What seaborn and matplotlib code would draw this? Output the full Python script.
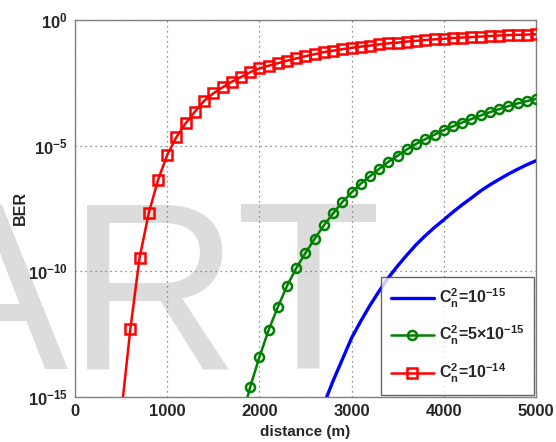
import matplotlib
matplotlib.use("Agg")
import matplotlib.pyplot as plt
import matplotlib.ticker as mticker
import numpy as np
import pandas as pd
import seaborn as sns

# distances (m) and log10(BER)
red_dist = list(range(500, 5001, 100))
red_log10 = [-15.7, -12.3, -9.47, -7.68, -6.37, -5.37, -4.66, -4.11, -3.65, -3.22,
             -2.92, -2.68, -2.46, -2.27, -2.08, -1.93, -1.82, -1.72, -1.62, -1.53,
             -1.44, -1.36, -1.28, -1.22, -1.16, -1.11, -1.06, -1.02, -0.97, -0.93,
             -0.90, -0.86, -0.83, -0.80, -0.77, -0.75, -0.72, -0.70, -0.68, -0.66,
             -0.64, -0.62, -0.60, -0.59, -0.58, -0.57]

green_dist = list(range(1800, 5001, 100))
green_log10 = [-16.0, -14.6, -13.41, -12.34, -11.42, -10.58, -9.87, -9.27, -8.70, -8.17,
               -7.69, -7.24, -6.86, -6.51, -6.21, -5.92, -5.64, -5.40, -5.15, -4.93,
               -4.74, -4.56, -4.38, -4.23, -4.08, -3.94, -3.80, -3.67, -3.55, -3.43,
               -3.32, -3.23, -3.14]

blue_dist = [2700, 2730, 2800, 2900, 3000, 3100, 3200, 3300, 3400, 3500, 3600, 3700,
             3800, 3900, 4000, 4100, 4200, 4300, 4400, 4500, 4600, 4700, 4800, 4900, 5000]
blue_log10 = [-15.3, -15.0, -14.35, -13.5, -12.65, -11.98, -11.35, -10.78, -10.25, -9.78,
              -9.35, -8.94, -8.58, -8.25, -7.95, -7.64, -7.35, -7.08, -6.80, -6.56,
              -6.34, -6.13, -5.94, -5.76, -5.6]

labels = [r"$\mathregular{C_n^2}$=10$^{\mathregular{-15}}$",
          r"$\mathregular{C_n^2}$=5$\times$10$^{\mathregular{-15}}$",
          r"$\mathregular{C_n^2}$=10$^{\mathregular{-14}}$"]

sns.set_style("white")
plt.rcParams['font.family'] = ['Liberation Sans', 'DejaVu Sans']
plt.rcParams['font.weight'] = 'bold'
plt.rcParams['mathtext.fontset'] = 'custom'
plt.rcParams['mathtext.rm'] = 'Liberation Sans:bold'
plt.rcParams['mathtext.it'] = 'Liberation Sans:bold'
plt.rcParams['mathtext.bf'] = 'Liberation Sans:bold'
plt.rcParams['mathtext.default'] = 'regular'

fig = plt.figure(figsize=(5.56, 4.42), dpi=100)
ax = fig.add_axes([0.1349, 0.1018, 0.8291, 0.853])
ax.set_zorder(2)
ax.patch.set_alpha(0.0)
ax.set_yscale('log')

# watermark sits behind the axes content
fig.text(0.688, 0.167, 'ART', fontsize=172, color='#dcdcdc',
         ha='right', va='baseline', fontweight='normal', zorder=0)

blue = pd.DataFrame({'d': blue_dist, 'ber': 10.0 ** np.array(blue_log10)})
green = pd.DataFrame({'d': green_dist, 'ber': 10.0 ** np.array(green_log10)})
red = pd.DataFrame({'d': red_dist, 'ber': 10.0 ** np.array(red_log10)})

sns.lineplot(data=blue, x='d', y='ber', ax=ax, color='#0000ff', lw=2.4,
             label=labels[0], zorder=3)
sns.lineplot(data=green, x='d', y='ber', ax=ax, color='#008000', lw=1.8,
             marker='o', markersize=6.5, markerfacecolor='none',
             markeredgecolor='#008000', markeredgewidth=1.8, label=labels[1], zorder=3)
sns.lineplot(data=red, x='d', y='ber', ax=ax, color='#ff0000', lw=1.8,
             marker='s', markersize=7.5, markerfacecolor='none',
             markeredgecolor='#ff0000', markeredgewidth=1.8, label=labels[2], zorder=3)

ax.set_xlim(0, 5000)
ax.set_ylim(1e-15, 1e0)
ax.set_xticks([0, 1000, 2000, 3000, 4000, 5000])
ax.yaxis.set_major_locator(mticker.FixedLocator([1e-15, 1e-10, 1e-5, 1e0]))
ax.yaxis.set_minor_locator(mticker.NullLocator())
ax.tick_params(direction='in', length=3, color='#808080', labelsize=12, pad=5)
ax.grid(True, linestyle=(0, (1, 3)), color='#707070', lw=0.9)
for s in ax.spines.values():
    s.set_color('#808080')
    s.set_linewidth(1.0)

ax.set_xlabel('distance (m)', fontsize=11, fontweight='bold', labelpad=4)
ax.set_ylabel('BER', fontsize=11.5, fontweight='bold', labelpad=0)

leg = ax.legend(loc='lower right', fontsize=11.5, frameon=True, fancybox=False,
                edgecolor='#404040', handlelength=2.7, handletextpad=0.3,
                borderaxespad=0.15, labelspacing=0.9, borderpad=0.6)
leg.get_frame().set_linewidth(1.0)

fig.savefig('out.png', dpi=100)
